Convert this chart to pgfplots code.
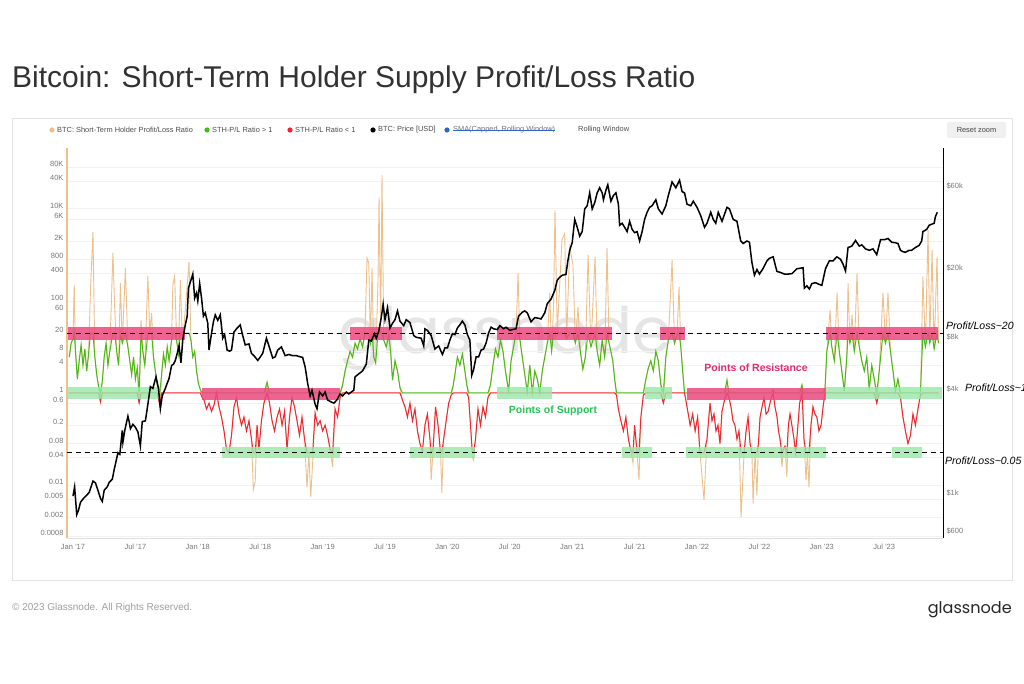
\documentclass[border=0pt]{standalone}
\usepackage{graphicx}
\usepackage{pgfplots}
\pgfplotsset{compat=1.18}
\usepackage{pgfplotstable}
\usepackage{fontspec}
\setmainfont{Liberation Sans}
\newfontfamily\logofont{Poppins}

\definecolor{tanc}{RGB}{238,192,140}
\definecolor{stgreen}{RGB}{72,186,22}
\definecolor{stred}{RGB}{240,38,52}
\definecolor{pinkband}{RGB}{236,72,128}
\definecolor{greenband}{RGB}{150,232,168}
\definecolor{resist}{RGB}{230,40,110}
\definecolor{support}{RGB}{40,196,84}
\definecolor{titlec}{RGB}{50,50,50}
\definecolor{tickc}{RGB}{120,120,120}
\definecolor{smablue}{RGB}{50,100,200}

% STH profit/loss ratio
\pgfplotstableread{
t r
2016.970 6
2016.985 12
2017.000 15
2017.010 220
2017.020 8
2017.035 2.0
2017.050 5
2017.065 11
2017.080 4
2017.095 9
2017.110 3
2017.125 7
2017.140 170
2017.160 3100
2017.175 6
2017.190 2.5
2017.205 1.4
2017.220 0.65
2017.235 1.8
2017.250 6
2017.265 12
2017.280 4
2017.295 8
2017.320 1100
2017.335 60
2017.350 8
2017.365 4
2017.380 240
2017.395 12
2017.420 510
2017.440 10
2017.455 5
2017.470 2.5
2017.485 6
2017.500 2
2017.515 3.5
2017.530 0.6
2017.545 38
2017.560 8
2017.575 4
2017.600 345
2017.615 20
2017.630 54
2017.645 6
2017.660 3
2017.675 1.5
2017.695 0.55
2017.710 2.5
2017.725 7
2017.740 4
2017.755 10
2017.770 5
2017.790 14
2017.800 220
2017.815 345
2017.830 14
2017.845 7
2017.860 280
2017.875 18
2017.890 30
2017.930 700
2017.945 14
2017.960 6
2017.975 8
2017.990 3
2018.005 1.6
2018.020 1.2
2018.035 0.8
2018.050 0.7
2018.070 0.45
2018.090 0.6
2018.110 0.4
2018.130 0.55
2018.150 1.05
2018.170 0.5
2018.190 0.3
2018.210 0.15
2018.230 0.06
2018.250 0.05
2018.270 0.12
2018.290 0.5
2018.310 0.8
2018.330 0.35
2018.350 0.2
2018.370 0.3
2018.390 0.15
2018.410 0.25
2018.430 0.1
2018.445 0.008
2018.460 0.012
2018.475 0.2
2018.490 0.06
2018.510 0.25
2018.530 0.6
2018.555 1.7
2018.575 0.6
2018.595 0.25
2018.615 0.15
2018.635 0.3
2018.655 0.45
2018.675 0.2
2018.695 0.4
2018.715 0.06
2018.735 0.3
2018.755 0.8
2018.775 0.5
2018.795 0.25
2018.815 0.12
2018.835 0.3
2018.855 0.1
2018.875 0.009
2018.890 0.05
2018.905 0.0056
2018.920 0.03
2018.940 0.37
2018.960 0.2
2018.980 0.25
2019.000 0.15
2019.020 0.2
2019.040 0.12
2019.060 0.06
2019.080 0.025
2019.100 0.45
2019.120 0.3
2019.140 0.8
2019.160 1.5
2019.180 3
2019.200 5
2019.220 8
2019.240 6
2019.260 12
2019.280 9
2019.300 15
2019.320 10
2019.340 25
2019.356 850
2019.370 660
2019.383 12
2019.396 510
2019.410 6
2019.425 4.5
2019.444 280
2019.452 17600
2019.465 20
2019.476 53000
2019.490 14
2019.510 10
2019.530 18
2019.545 8
2019.560 1.9
2019.580 5
2019.600 3
2019.620 1.3
2019.640 0.7
2019.660 0.5
2019.680 0.3
2019.700 0.6
2019.720 0.25
2019.740 0.45
2019.760 0.15
2019.780 0.08
2019.800 0.055
2019.820 0.2
2019.840 0.35
2019.860 0.1
2019.870 0.013
2019.885 0.06
2019.905 0.5
2019.925 0.2
2019.945 0.05
2019.955 0.0068
2019.970 0.1
2019.990 0.25
2020.010 0.6
2020.030 0.9
2020.045 1.4
2020.060 2.5
2020.080 6
2020.100 4
2020.120 7
2020.140 3
2020.155 1.5
2020.170 0.8
2020.185 0.2
2020.200 0.04
2020.210 0.035
2020.225 0.1
2020.245 0.45
2020.265 0.2
2020.285 0.5
2020.305 0.3
2020.325 0.8
2020.345 1.5
2020.365 4
2020.385 9
2020.405 6
2020.425 14
2020.445 8
2020.465 3
2020.490 1.1
2020.510 5
2020.530 10
2020.550 20
2020.566 400
2020.580 15
2020.600 6
2020.620 2.5
2020.640 1.05
2020.660 4
2020.680 1.0
2020.700 3
2020.720 2
2020.740 1.0
2020.760 3
2020.780 6
2020.800 12
2020.820 150
2020.835 8
2020.850 75
2020.862 9300
2020.880 20
2020.918 2100
2020.940 2900
2020.955 15
2020.980 1470
2021.006 600
2021.025 12
2021.046 73
2021.065 8
2021.085 3.3
2021.105 6
2021.127 990
2021.150 10
2021.183 900
2021.200 8
2021.220 4
2021.240 14
2021.260 6
2021.279 1400
2021.295 12
2021.310 8
2021.325 5
2021.340 2
2021.355 0.9
2021.370 0.45
2021.390 0.25
2021.410 0.15
2021.430 0.3
2021.450 0.1
2021.470 0.055
2021.487 0.03
2021.500 0.2
2021.520 0.05
2021.535 0.013
2021.550 0.3
2021.570 0.9
2021.590 2
2021.610 3.5
2021.630 5
2021.650 3
2021.670 8
2021.690 5
2021.710 1.5
2021.730 0.6
2021.750 6
2021.770 14
2021.800 760
2021.820 12
2021.840 18
2021.856 200
2021.870 10
2021.885 3
2021.900 1.0
2021.920 0.5
2021.945 0.2
2021.965 0.35
2021.985 0.15
2022.005 0.3
2022.024 0.05
2022.056 0.0048
2022.080 0.1
2022.104 0.6
2022.120 0.25
2022.136 0.35
2022.152 0.15
2022.168 0.2
2022.184 0.08
2022.200 0.4
2022.220 0.7
2022.240 1.9
2022.256 0.8
2022.272 0.5
2022.288 0.25
2022.304 0.2
2022.320 0.1
2022.336 0.15
2022.353 0.002
2022.377 0.05
2022.393 0.15
2022.409 0.3
2022.425 0.08
2022.440 0.05
2022.449 0.004
2022.465 0.05
2022.480 0.006
2022.492 0.08
2022.505 0.3
2022.521 0.5
2022.537 0.8
2022.553 0.35
2022.570 0.4
2022.590 0.7
2022.609 1.15
2022.625 0.5
2022.641 0.3
2022.653 0.15
2022.665 0.1
2022.680 0.025
2022.692 0.06
2022.705 0.07
2022.720 0.015
2022.732 0.2
2022.745 0.35
2022.760 0.2
2022.777 0.1
2022.790 0.05
2022.805 0.15
2022.822 0.6
2022.841 1.5
2022.850 0.3
2022.857 0.1
2022.873 0.013
2022.885 0.05
2022.897 0.009
2022.913 0.2
2022.929 0.5
2022.945 0.35
2022.960 0.3
2022.977 0.15
2022.994 0.2
2023.010 0.5
2023.026 1.3
2023.040 8
2023.066 63
2023.080 10
2023.100 5
2023.122 150
2023.140 8
2023.160 3
2023.180 1.1
2023.200 6
2023.210 240
2023.225 12
2023.242 50
2023.260 8
2023.282 400
2023.300 10
2023.320 5
2023.340 3
2023.360 6
2023.380 1.2
2023.400 4
2023.420 2
2023.440 0.6
2023.460 3
2023.490 150
2023.510 12
2023.530 150
2023.550 8
2023.570 3
2023.590 1.1
2023.610 2
2023.630 0.8
2023.650 0.3
2023.670 0.15
2023.690 0.08
2023.710 0.12
2023.730 0.35
2023.750 0.2
2023.770 0.45
2023.790 0.9
2023.810 330
2023.830 10
2023.851 3400
2023.865 12
2023.883 1260
2023.900 9
2023.923 900
2023.935 12
}\ratio

% BTC price in USD
\pgfplotstableread{
t p
2017.000 998
2017.013 1130
2017.030 780
2017.045 830
2017.060 920
2017.085 970
2017.110 1010
2017.130 1050
2017.160 1220
2017.180 1190
2017.205 1050
2017.220 970
2017.235 930
2017.250 1080
2017.275 1130
2017.290 1200
2017.315 1250
2017.330 1420
2017.360 1780
2017.375 1740
2017.395 2400
2017.400 2050
2017.415 2400
2017.440 2900
2017.450 2700
2017.460 2450
2017.480 2600
2017.500 2500
2017.520 2350
2017.540 1950
2017.555 2700
2017.580 2720
2017.600 3400
2017.620 4300
2017.640 4200
2017.665 4900
2017.685 4200
2017.700 3200
2017.715 3800
2017.740 4200
2017.750 4400
2017.770 4800
2017.790 5700
2017.805 5800
2017.820 6100
2017.835 6700
2017.850 7400
2017.865 5900
2017.880 8100
2017.900 9800
2017.915 11000
2017.925 16000
2017.945 17800
2017.960 19300
2017.975 14000
2017.990 15000
2018.000 13500
2018.015 17000
2018.030 14000
2018.045 11000
2018.060 11500
2018.080 10000
2018.090 7000
2018.105 8300
2018.125 10200
2018.140 11200
2018.160 10400
2018.180 11200
2018.200 8200
2018.215 8600
2018.235 7000
2018.255 6900
2018.270 7000
2018.290 8900
2018.310 9300
2018.340 9800
2018.360 8500
2018.380 7500
2018.410 7600
2018.430 6700
2018.450 6500
2018.480 6100
2018.495 6300
2018.520 6700
2018.550 8200
2018.570 7400
2018.600 6300
2018.620 6400
2018.640 7000
2018.670 7300
2018.700 6500
2018.730 6600
2018.760 6500
2018.790 6500
2018.820 6400
2018.840 6350
2018.860 5600
2018.880 4500
2018.900 3800
2018.915 4100
2018.940 3400
2018.955 3200
2018.975 4000
2019.000 3800
2019.020 4000
2019.040 3600
2019.070 3500
2019.090 3450
2019.115 3600
2019.140 3900
2019.160 3800
2019.190 4000
2019.210 3900
2019.250 4100
2019.260 4900
2019.290 5100
2019.320 5300
2019.350 5800
2019.370 8000
2019.390 7900
2019.415 8700
2019.430 8200
2019.450 9000
2019.470 10800
2019.485 12900
2019.500 10500
2019.520 12300
2019.540 9400
2019.560 10000
2019.580 10500
2019.600 11800
2019.620 10300
2019.650 9700
2019.670 10500
2019.700 10100
2019.730 8500
2019.750 8300
2019.790 8200
2019.810 7400
2019.820 9300
2019.840 9100
2019.870 8500
2019.900 7100
2019.930 7400
2019.960 6600
2019.980 7200
2020.000 7200
2020.020 8000
2020.040 8700
2020.060 8600
2020.080 9400
2020.100 9800
2020.120 10300
2020.140 9800
2020.160 8600
2020.180 8000
2020.195 5000
2020.210 5400
2020.230 6400
2020.250 6400
2020.270 7000
2020.290 7100
2020.310 7700
2020.330 8800
2020.350 9500
2020.370 9300
2020.400 9200
2020.420 9700
2020.450 9300
2020.470 9500
2020.500 9100
2020.520 9200
2020.550 9300
2020.570 11000
2020.600 11600
2020.620 11800
2020.640 11500
2020.670 10200
2020.700 10800
2020.730 10700
2020.750 10600
2020.780 11500
2020.800 13000
2020.830 13800
2020.860 15500
2020.880 17800
2020.900 18500
2020.920 19000
2020.950 19200
2020.965 23000
2020.980 26500
2021.000 29400
2021.020 40000
2021.040 36000
2021.060 32000
2021.080 34000
2021.100 46000
2021.120 48000
2021.140 57000
2021.160 46000
2021.180 50000
2021.200 57000
2021.220 61000
2021.240 57000
2021.250 52000
2021.270 59000
2021.285 63500
2021.310 51000
2021.330 55000
2021.350 57000
2021.370 49000
2021.380 37000
2021.400 38000
2021.420 36000
2021.440 34000
2021.460 39000
2021.480 35000
2021.500 33500
2021.520 34000
2021.540 30000
2021.560 34000
2021.580 40000
2021.600 44000
2021.620 47000
2021.640 48000
2021.670 52000
2021.690 46000
2021.720 43000
2021.750 48000
2021.770 55000
2021.790 62000
2021.800 66000
2021.830 61000
2021.860 67500
2021.880 58000
2021.900 57000
2021.920 49000
2021.950 48000
2021.970 51000
2022.000 47000
2022.030 42000
2022.060 36000
2022.080 38000
2022.110 44000
2022.130 40000
2022.150 38000
2022.170 44000
2022.200 39000
2022.240 47000
2022.260 46000
2022.290 40000
2022.320 39000
2022.350 30000
2022.370 29000
2022.400 30000
2022.420 29500
2022.440 22500
2022.460 19000
2022.480 20500
2022.500 19300
2022.530 20800
2022.560 23000
2022.580 23800
2022.610 24300
2022.640 20000
2022.670 19700
2022.700 19300
2022.730 19300
2022.760 19400
2022.800 20700
2022.850 21000
2022.860 16000
2022.880 16500
2022.900 15800
2022.920 17000
2022.950 17200
2022.980 16800
2023.000 16600
2023.030 20800
2023.060 23000
2023.090 23000
2023.120 24300
2023.150 23500
2023.170 22000
2023.190 20100
2023.210 27500
2023.240 28000
2023.270 30200
2023.300 28000
2023.320 28500
2023.350 27000
2023.380 26500
2023.410 27000
2023.440 25000
2023.470 30500
2023.500 30500
2023.530 31000
2023.560 29500
2023.590 29300
2023.610 29000
2023.630 26500
2023.650 26000
2023.670 25800
2023.700 26500
2023.720 26500
2023.750 27500
2023.780 28300
2023.800 30000
2023.810 34000
2023.840 35000
2023.860 37000
2023.880 37500
2023.900 38000
2023.910 41500
2023.925 44000
}\price

\begin{document}
\begin{tikzpicture}[x=1pt,y=1pt]
\clip (0,0) rectangle (1024,683);
\fill[white] (0,0) rectangle (1024,683);

% title and frame
\node[anchor=base west, inner sep=0, text=titlec] at (12,595)
  {\resizebox{683pt}{!}{Bitcoin: Short-Term Holder Supply Profit/Loss Ratio}};
\draw[gray!22, line width=0.8pt] (12,103) rectangle (1012,565);

% legend row
\begin{scope}[font=\fontsize{7.4}{8}\selectfont, text=black!70]
\fill[tanc] (52,553) circle (2.6);
\node[anchor=west, inner sep=0] at (57,553) {BTC: Short-Term Holder Profit/Loss Ratio};
\fill[stgreen] (207,553) circle (2.6);
\node[anchor=west, inner sep=0] at (212,553) {STH-P/L Ratio > 1};
\fill[stred] (290,553) circle (2.6);
\node[anchor=west, inner sep=0] at (295,553) {STH-P/L Ratio < 1};
\fill[black] (373,553) circle (2.6);
\node[anchor=west, inner sep=0] at (378,553) {BTC: Price [USD]};
\fill[smablue] (447,553) circle (2.6);
\node[anchor=west, inner sep=0, text=black!55] (sma) at (453,553) {SMA(Capped, Rolling Window)};
\draw[smablue, line width=0.6pt] (sma.west) -- (sma.east);
\node[anchor=west, inner sep=0] at (578,553) {Rolling Window};
\end{scope}
\fill[gray!12, rounded corners=2pt] (947,545) rectangle (1006,561);
\node[font=\fontsize{7.4}{8}\selectfont, text=black!75] at (976.5,553) {Reset zoom};

% watermark
\node[text=gray!20, font=\logofont\fontsize{64}{64}\selectfont] at (505,345) {glassnode};

% ratio axis (left)
\begin{axis}[
  at={(67pt,145pt)}, anchor=south west,
  scale only axis, width=876pt, height=390pt,
  xmin=2016.952, xmax=2023.971,
  ymode=log, ymin=7.16e-4, ymax=2.06e5,
  axis x line*=bottom, axis y line*=left,
  x axis line style={-, draw=gray!25},
  y axis line style={-, draw=tanc, line width=1.2pt},
  tick style={draw=none},
  xtick={2017,2017.5,2018,2018.5,2019,2019.5,2020,2020.5,2021,2021.5,2022,2022.5,2023,2023.5},
  xticklabels={Jan '17,Jul '17,Jan '18,Jul '18,Jan '19,Jul '19,Jan '20,Jul '20,Jan '21,Jul '21,Jan '22,Jul '22,Jan '23,Jul '23},
  ytick={0.0008,0.002,0.005,0.01,0.04,0.08,0.2,0.6,1,4,8,20,60,100,400,800,2000,6000,10000,40000,80000},
  yticklabels={0.0008,0.002,0.005,0.01,0.04,0.08,0.2,0.6,1,4,8,20,60,100,400,800,2K,6K,10K,40K,80K},
  xticklabel style={font=\fontsize{7.5}{8}\selectfont, text=tickc, yshift=-3pt},
  yticklabel style={font=\fontsize{7.5}{8}\selectfont, text=tickc, yshift=3pt},
  ymajorgrids, grid style={gray!10, line width=0.5pt},
  clip=true,
]
\addplot[tanc, line width=0.9pt] table[x=t, y=r] {\ratio};
\addplot[stgreen, line width=1pt] table[x=t, y expr={max(min(\thisrow{r},20),1)}] {\ratio};
\addplot[stred, line width=1pt] table[x=t, y expr={max(min(\thisrow{r},1),0.05)}] {\ratio};

% highlight bands
\fill[pinkband, opacity=0.85] (axis cs:2016.96,14) rectangle (axis cs:2017.90,27);
\fill[pinkband, opacity=0.85] (axis cs:2019.22,14) rectangle (axis cs:2019.64,27);
\fill[pinkband, opacity=0.85] (axis cs:2020.40,14) rectangle (axis cs:2021.32,27);
\fill[pinkband, opacity=0.85] (axis cs:2021.70,14) rectangle (axis cs:2021.90,27);
\fill[pinkband, opacity=0.85] (axis cs:2023.03,14) rectangle (axis cs:2023.93,27);
\fill[greenband, opacity=0.8] (axis cs:2016.96,0.74) rectangle (axis cs:2017.70,1.35);
\fill[greenband, opacity=0.8] (axis cs:2020.40,0.74) rectangle (axis cs:2020.84,1.35);
\fill[greenband, opacity=0.8] (axis cs:2021.58,0.74) rectangle (axis cs:2021.80,1.35);
\fill[greenband, opacity=0.8] (axis cs:2023.03,0.74) rectangle (axis cs:2023.96,1.35);
\fill[pinkband, opacity=0.85] (axis cs:2018.03,0.70) rectangle (axis cs:2019.14,1.28);
\fill[pinkband, opacity=0.85] (axis cs:2021.92,0.70) rectangle (axis cs:2023.03,1.28);
\fill[greenband, opacity=0.8] (axis cs:2018.19,0.039) rectangle (axis cs:2019.14,0.067);
\fill[greenband, opacity=0.8] (axis cs:2019.70,0.039) rectangle (axis cs:2020.22,0.067);
\fill[greenband, opacity=0.8] (axis cs:2021.40,0.039) rectangle (axis cs:2021.64,0.067);
\fill[greenband, opacity=0.8] (axis cs:2021.91,0.039) rectangle (axis cs:2023.03,0.067);
\fill[greenband, opacity=0.8] (axis cs:2023.56,0.039) rectangle (axis cs:2023.80,0.067);

\addplot[black, line width=1pt, dash pattern=on 5pt off 4pt] coordinates {(2016.952,20) (2023.971,20)};
\addplot[black, line width=1pt, dash pattern=on 5pt off 4pt] coordinates {(2016.952,0.05) (2023.971,0.05)};
\end{axis}

% price axis (right)
\begin{axis}[
  at={(67pt,145pt)}, anchor=south west,
  scale only axis, width=876pt, height=390pt,
  xmin=2016.952, xmax=2023.971,
  ymode=log, ymin=571, ymax=1.037e5,
  axis x line=none, axis y line*=right,
  y axis line style={-, draw=black, line width=1pt},
  tick style={draw=none},
  ytick={600,1000,4000,8000,20000,60000},
  yticklabels={\$600,\$1k,\$4k,\$8k,\$20k,\$60k},
  yticklabel style={font=\fontsize{7.5}{8}\selectfont, text=tickc, yshift=3pt},
  clip=true,
]
\addplot[black, line width=1.5pt] table[x=t, y=p] {\price};
\end{axis}

% annotations
\begin{scope}[font=\itshape\fontsize{10.5}{11}\selectfont]
\node[anchor=west, inner sep=0] at (946,357) {Profit/Loss\textasciitilde 20};
\node[anchor=west, inner sep=0] at (965,295) {Profit/Loss\textasciitilde 1};
\node[anchor=west, inner sep=0] at (945,222) {Profit/Loss\textasciitilde 0.05};
\end{scope}
\node[font=\bfseries\fontsize{10.5}{11}\selectfont, text=resist] at (756,315) {Points of Resistance};
\node[font=\bfseries\fontsize{10.5}{11}\selectfont, text=support] at (553,272) {Points of Support};

% footer
\node[anchor=west, inner sep=0, text=gray!75, font=\fontsize{10}{11}\selectfont] at (12,75) {\textcopyright\ 2023 Glassnode. All Rights Reserved.};
\node[anchor=east, inner sep=0, text=black!85] at (1012,73)
  {\resizebox{84pt}{!}{\logofont glassnode}};
\end{tikzpicture}
\end{document}
